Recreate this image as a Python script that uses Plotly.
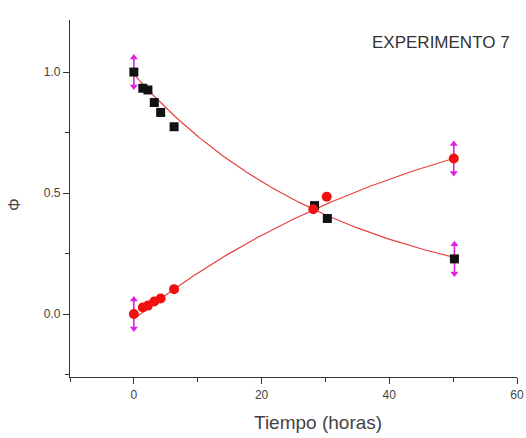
import numpy as np
import plotly.graph_objects as go

# Measured fractions (Phi) vs. time in hours
t_sq = [0.0, 1.4, 2.2, 3.2, 4.2, 6.3, 28.3, 30.3, 50.2]
phi_sq = [1.0, 0.933, 0.926, 0.874, 0.833, 0.774, 0.448, 0.395, 0.228]
err_sq = [0.06, 0, 0, 0, 0, 0, 0, 0, 0.06]

t_ci = [0.0, 1.4, 2.2, 3.2, 4.2, 6.3, 28.1, 30.2, 50.1]
phi_ci = [0.0, 0.027, 0.035, 0.052, 0.064, 0.103, 0.433, 0.485, 0.643]
err_ci = [0.06, 0, 0, 0, 0, 0, 0, 0, 0.06]

# Fitted first-order models
decay_A, decay_k, decay_C = 0.958, 0.031, 0.032
growth_A, growth_k, growth_t0 = 1.029, 0.020, 1.0

x_ticks = [0, 20, 40, 60]
y_ticks = [0.0, 0.5, 1.0]

MAGENTA = "#e020e0"
RED_LINE = "rgb(232,64,64)"
FONT = "Liberation Sans, Arial, sans-serif"

t_fit = np.linspace(0, 50, 200)
decay_fit = decay_A * np.exp(-decay_k * t_fit) + decay_C
growth_fit = growth_A * (1 - np.exp(-growth_k * (t_fit - growth_t0)))

fig = go.Figure()

fig.add_trace(go.Scatter(x=t_fit, y=decay_fit, mode="lines",
                         line=dict(color=RED_LINE, width=1.2), hoverinfo="skip"))
fig.add_trace(go.Scatter(x=t_fit, y=growth_fit, mode="lines",
                         line=dict(color=RED_LINE, width=1.2), hoverinfo="skip"))


def arrow_traces(ts, ys, errs):
    xs = [t for t, e in zip(ts, errs) if e > 0]
    yc = [y for y, e in zip(ys, errs) if e > 0]
    es = [e for e in errs if e > 0]
    bars = go.Scatter(x=xs, y=yc, mode="markers",
                      marker=dict(size=1, color="rgba(0,0,0,0)"),
                      error_y=dict(type="data", array=es, arrayminus=es,
                                   color=MAGENTA, thickness=1.6, width=0))
    up = go.Scatter(x=xs, y=[y + e for y, e in zip(yc, es)], mode="markers",
                    marker=dict(symbol="triangle-up", size=7, color=MAGENTA))
    down = go.Scatter(x=xs, y=[y - e for y, e in zip(yc, es)], mode="markers",
                      marker=dict(symbol="triangle-down", size=7, color=MAGENTA))
    return [bars, up, down]


for tr in arrow_traces(t_sq, phi_sq, err_sq) + arrow_traces(t_ci, phi_ci, err_ci):
    fig.add_trace(tr)

fig.add_trace(go.Scatter(x=t_sq, y=phi_sq, mode="markers",
                         marker=dict(symbol="square", size=9, color="#111111")))
fig.add_trace(go.Scatter(x=t_ci, y=phi_ci, mode="markers",
                         marker=dict(symbol="circle", size=10, color="#f01010")))

axis_common = dict(showgrid=False, zeroline=False, showline=True,
                   linecolor="#333333", linewidth=1.4, ticks="outside",
                   ticklen=6, tickwidth=1.2, tickcolor="#333333",
                   tickfont=dict(family=FONT, size=12, color="#444444"),
                   mirror=False, automargin=False)

fig.update_layout(
    width=526, height=438,
    margin=dict(l=70, r=9, t=20, b=61),
    paper_bgcolor="white", plot_bgcolor="white",
    showlegend=False,
    xaxis=dict(range=[-10, 60], tickvals=x_ticks,
               minor=dict(dtick=10, ticks="outside", ticklen=4,
                          tickcolor="#333333"),
               **axis_common),
    yaxis=dict(range=[-0.26, 1.215], tickvals=y_ticks, tickformat=".1f",
               minor=dict(dtick=0.25, ticks="outside", ticklen=4,
                          tickcolor="#333333"),
               **axis_common),
    annotations=[
        dict(text="EXPERIMENTO 7", xref="paper", yref="paper",
             x=(512 - 70) / 447, y=(377 - 42) / 357, xanchor="right",
             yanchor="middle", showarrow=False,
             font=dict(family=FONT, size=17, color="#333333")),
        dict(text="Tiempo (horas)", xref="paper", yref="paper",
             x=(318 - 70) / 447, y=-0.128, xanchor="center", yanchor="middle",
             showarrow=False,
             font=dict(family=FONT, size=19, color="#444444")),
        dict(text="Φ", xref="paper", yref="paper",
             x=(15 - 70) / 447, y=(377 - 205) / 357, xanchor="center",
             yanchor="middle", textangle=-90, showarrow=False,
             font=dict(family=FONT, size=16, color="#444444")),
    ],
)

fig.write_html("out.html")
